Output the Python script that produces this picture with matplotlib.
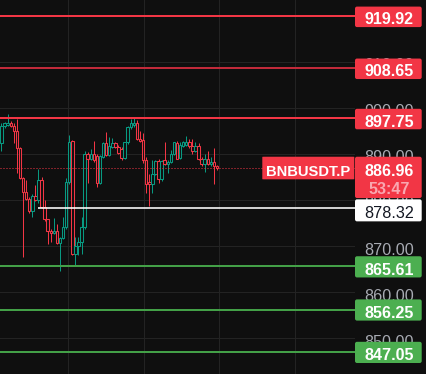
import matplotlib
matplotlib.use('Agg')
import matplotlib.pyplot as plt
from matplotlib.patches import FancyBboxPatch
import numpy as np

# ---------------- data ----------------
opens = [892.3, 896.1, 896.3, 896.7, 896.1, 894.9, 891.4, 884.7, 881.7, 880.3,
         877.7, 881.0, 880.1, 884.4, 878.5, 875.8, 873.4, 872.8, 873.4, 870.6,
         871.8, 874.1, 884.0, 892.9, 868.3, 870.0, 871.0, 874.1, 890.1, 888.9,
         890.0, 889.6, 883.7, 889.4, 892.3, 889.8, 891.6, 892.3, 891.6, 891.0,
         889.1, 892.5, 895.8, 896.2, 896.7, 893.2, 893.0, 888.7, 884.0, 883.5,
         885.7, 888.5, 884.5, 888.7, 887.8, 888.3, 890.1, 892.3, 889.2, 891.7,
         892.0, 892.6, 891.7, 890.7, 891.7, 889.0, 887.8, 889.0, 887.8, 888.3,
         887.3]
highs = [896.7, 897.0, 898.6, 897.2, 896.7, 897.7, 891.6, 885.0, 884.3, 880.6,
         881.3, 883.2, 886.8, 885.0, 880.0, 876.0, 873.8, 876.2, 874.9, 871.9,
         876.4, 884.7, 894.2, 893.1, 872.1, 872.1, 876.4, 890.6, 890.5, 891.0,
         892.9, 889.9, 889.8, 892.6, 894.8, 893.7, 893.4, 892.6, 892.0, 891.6,
         892.7, 896.1, 897.5, 897.8, 897.4, 894.9, 894.5, 889.4, 885.7, 888.7,
         888.7, 888.9, 888.7, 892.6, 888.6, 890.9, 892.6, 892.9, 892.6, 892.9,
         893.9, 893.2, 893.2, 892.7, 892.3, 889.3, 890.0, 890.6, 889.4, 891.4,
         887.6]
lows = [890.7, 895.6, 896.0, 895.8, 892.3, 885.8, 884.5, 867.7, 880.0, 877.3,
        876.4, 879.8, 879.4, 878.2, 875.5, 870.4, 871.0, 872.6, 870.4, 864.7,
        871.5, 873.8, 883.6, 868.0, 865.9, 868.2, 868.3, 873.8, 883.8, 888.6,
        888.3, 882.8, 883.5, 889.2, 889.6, 889.5, 891.3, 891.2, 889.9, 888.7,
        888.9, 892.2, 895.5, 895.8, 893.0, 892.6, 888.0, 881.6, 878.7, 881.6,
        885.4, 883.8, 884.2, 887.6, 885.9, 888.0, 889.8, 888.9, 889.0, 891.5,
        891.8, 891.4, 889.9, 890.5, 888.8, 887.3, 886.1, 887.6, 887.5, 883.5,
        886.5]
closes = [896.1, 896.7, 896.7, 896.1, 894.9, 891.4, 884.7, 881.7, 880.3, 877.7,
          881.0, 880.1, 884.4, 878.5, 875.8, 873.4, 872.8, 873.4, 870.6, 871.8,
          874.1, 884.0, 892.7, 868.3, 870.0, 871.0, 874.1, 890.1, 888.9, 890.0,
          888.7, 883.7, 889.6, 892.3, 889.8, 891.7, 892.3, 891.6, 890.3, 889.1,
          892.5, 895.8, 896.7, 896.7, 893.2, 892.9, 888.7, 883.5, 883.5, 885.7,
          888.5, 884.5, 888.5, 887.8, 888.3, 890.1, 892.5, 889.0, 891.9, 892.6,
          892.6, 891.7, 890.7, 891.7, 889.0, 887.8, 889.0, 887.8, 888.3, 887.3,
          886.96]

resistance_levels = [919.92, 908.65, 897.75]
support_levels = [865.61, 856.25, 847.05]
mid_level = 878.32
mid_level_start = 12          # candle where the white level begins
last_price = 886.96
countdown = "53:47"
symbol = "BNBUSDT.P"
tick_values = [850, 860, 870, 880, 890, 900, 910]

# ---------------- style ----------------
W, H, DPI = 426, 374, 100
BG = '#0f0f0f'
GRID = '#232323'
UP = '#089981'
DOWN = '#f23645'
RED = '#f23645'
GREEN_BOX = '#4caf50'
GREEN_LINE = '#43a047'
res_line_colors = ['#f23645', '#c22a3a', '#f23645']
TICK_COL = '#a8abb3'
FONT = ['Liberation Sans', 'DejaVu Sans']
FS = 11.6
PLOT_W = 355
ymin, ymax = 842.28, 923.41
ppu = H / (ymax - ymin)  # pixels per price unit

fig = plt.figure(figsize=(W / DPI, H / DPI), dpi=DPI)
fig.patch.set_facecolor(BG)

ax = fig.add_axes([0, 0, PLOT_W / W, 1])
ax.set_facecolor(BG)
ax.set_ylim(ymin, ymax)
n = len(opens)
dx = (217 - 1.5) / (n - 1)
ax.set_xlim(-1.5 / dx, (PLOT_W - 1.5) / dx)
for s in ax.spines.values():
    s.set_visible(False)
ax.set_xticks([])
ax.set_yticks([])

px = 72.0 / DPI  # one pixel in points

# grid
for t in tick_values:
    ax.axhline(t, color=GRID, lw=1.0 * px, zorder=0)
for gx in [68, 144, 219, 295]:
    ax.axvline((gx - 1.5) / dx, color=GRID, lw=1.0 * px, zorder=0)

# candles
o = np.array(opens); h = np.array(highs); l = np.array(lows); c = np.array(closes)
idx = np.arange(n)
up = c >= o
cols = [UP if u else DOWN for u in up]
ax.vlines(idx, l, h, colors=cols, lw=1.0 * px, zorder=3)
body = np.maximum(np.abs(c - o), 1.2 / ppu)
ax.bar(idx, body, bottom=np.minimum(o, c), width=0.8, color=BG,
       edgecolor=cols, linewidth=1.05 * px, zorder=4)

# level lines
for p, col in zip(resistance_levels, res_line_colors):
    ax.axhline(p, color=col, lw=2.0 * px, zorder=5)
for p in support_levels:
    ax.axhline(p, color=GREEN_LINE, lw=2.0 * px, zorder=5)
ax.hlines(mid_level, mid_level_start - 0.3, ax.get_xlim()[1], color='white',
          lw=1.6 * px, zorder=5)
ax.axhline(last_price, color=RED, lw=1.0 * px, ls=(0, (1, 2)), zorder=5)

# symbol box on the chart
xl0, xl1 = ax.get_xlim()
def pix2x(xp):
    return xl0 + xp / PLOT_W * (xl1 - xl0)
sym_box = FancyBboxPatch((pix2x(262.3), last_price - 11.3 / ppu),
                         pix2x(354.3) - pix2x(262.3), 22.6 / ppu,
                         boxstyle='round,pad=0,rounding_size=0.6',
                         mutation_aspect=(1 / ppu) / dx,
                         fc=RED, ec='none', zorder=8)
ax.add_patch(sym_box)
ax.text(pix2x(308.3), last_price - 7.8 / ppu, symbol, color='white',
        fontsize=10.6, fontweight='bold', family=FONT, ha='center',
        va='baseline', zorder=9)

# ---------------- price axis ----------------
ax2 = fig.add_axes([PLOT_W / W, 0, (W - PLOT_W) / W, 1])
ax2.set_facecolor(BG)
ax2.set_xlim(0, W - PLOT_W)
ax2.set_ylim(ymin, ymax)
ax2.axis('off')
BOX_W = 66.7
TXT_X = 34.3
BASE_OFF = 8.3  # pixels from level to text baseline

for t in tick_values:
    ax2.text(TXT_X, t - BASE_OFF / ppu, f'{t:.2f}', color=TICK_COL, fontsize=FS,
             family=FONT, ha='center', va='baseline', zorder=1)

def price_box(p, fc, top_px, bot_px, text, tcol, weight='bold', base=BASE_OFF):
    ax2.add_patch(FancyBboxPatch((0, p - bot_px / ppu), BOX_W,
                                 (top_px + bot_px) / ppu,
                                 boxstyle='round,pad=0,rounding_size=2',
                                 mutation_aspect=1 / ppu,
                                 fc=fc, ec='none', zorder=3))
    ax2.text(TXT_X, p - base / ppu, text, color=tcol, fontsize=FS,
             fontweight=weight, family=FONT, ha='center', va='baseline',
             zorder=4)

for p in resistance_levels:
    price_box(p, RED, 9.5, 11.0, f'{p:.2f}', 'white')
for p in support_levels:
    price_box(p, GREEN_BOX, 10.2, 11.0, f'{p:.2f}', 'white')

# last price with countdown
price_box(last_price, RED, 11.3, 30.0, f'{last_price:.2f}', 'white')
ax2.text(TXT_X, last_price - 25.8 / ppu, countdown, color='#f9a7b0',
         fontsize=FS, fontweight='bold', family=FONT, ha='center',
         va='baseline', zorder=4)

# white mid level
price_box(mid_level, 'white', 8.5, 13.5, f'{mid_level:.2f}', '#131722',
          weight='normal', base=10.6)

fig.savefig('out.png', dpi=DPI, facecolor=BG)
